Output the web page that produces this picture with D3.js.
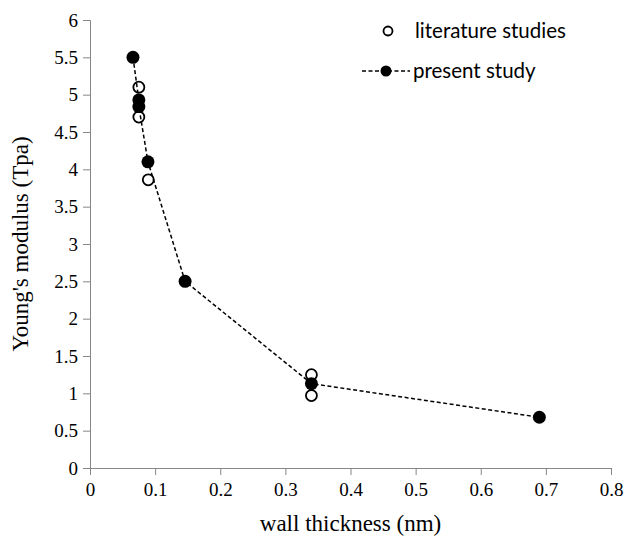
<!DOCTYPE html>
<html>
<head>
<meta charset="utf-8">
<script src="https://cdn.jsdelivr.net/npm/d3@7"></script>
<style>
  body { margin: 0; background: #fff; }
  svg { display: block; }
  .serif { font-family: "Liberation Serif", "Times New Roman", Times, "DejaVu Serif", serif; }
</style>
</head>
<body>
<svg id="chart"></svg>
<script>
// literature values (open circles)
const litX = [0.075, 0.075, 0.0895, 0.34, 0.34];
const litY = [5.1, 4.7, 3.86, 1.25, 0.97];
// present study (filled circles, dashed line)
const presX = [0.066, 0.075, 0.075, 0.089, 0.146, 0.34, 0.69];
const presY = [5.5, 4.93, 4.84, 4.10, 2.50, 1.13, 0.68];

const xTicks = [0, 0.1, 0.2, 0.3, 0.4, 0.5, 0.6, 0.7, 0.8];
const yTicks = [0, 0.5, 1, 1.5, 2, 2.5, 3, 3.5, 4, 4.5, 5, 5.5, 6];

const width = 625, height = 542;
const margin = {left: 90, right: 14, top: 20, bottom: 74};

const svg = d3.select("#chart")
  .attr("width", width)
  .attr("height", height);

const x = d3.scaleLinear().domain([0, 0.8]).range([margin.left, width - margin.right]);
const y = d3.scaleLinear().domain([0, 6]).range([height - margin.bottom, margin.top]);

const axisColor = "#868686";

// x axis
const gx = svg.append("g")
  .attr("transform", `translate(0,${y(0)})`)
  .call(d3.axisBottom(x).tickValues(xTicks).tickFormat(d3.format("")).tickSize(7).tickPadding(8));
// y axis
const gy = svg.append("g")
  .attr("transform", `translate(${x(0)},0)`)
  .call(d3.axisLeft(y).tickValues(yTicks).tickFormat(d3.format("")).tickSize(7).tickPadding(5));

[gx, gy].forEach(g => {
  g.attr("font-family", null).attr("font-size", 19);
  g.select(".domain").attr("stroke", axisColor).attr("stroke-width", 1);
  g.selectAll(".tick line").attr("stroke", axisColor);
  g.selectAll(".tick text").attr("fill", "#000").attr("class", "serif");
});

// axis titles
svg.append("text")
  .attr("class", "serif")
  .attr("x", (x(0) + x(0.8)) / 2)
  .attr("y", 531)
  .attr("text-anchor", "middle")
  .attr("font-size", 23)
  .text("wall thickness (nm)");

svg.append("text")
  .attr("class", "serif")
  .attr("transform", `translate(28,${(y(0) + y(6)) / 2}) rotate(-90)`)
  .attr("text-anchor", "middle")
  .attr("font-size", 23)
  .text("Young's modulus (Tpa)");

const lit = litX.map((d, i) => ({x: d, y: litY[i]}));
const pres = presX.map((d, i) => ({x: d, y: presY[i]}));

// literature points
svg.append("g")
  .selectAll("circle")
  .data(lit)
  .join("circle")
  .attr("cx", d => x(d.x))
  .attr("cy", d => y(d.y))
  .attr("r", 5.5)
  .attr("fill", "#fff")
  .attr("stroke", "#000")
  .attr("stroke-width", 1.8);

// present study line + points
const line = d3.line().x(d => x(d.x)).y(d => y(d.y));
svg.append("path")
  .datum(pres)
  .attr("d", line)
  .attr("fill", "none")
  .attr("stroke", "#000")
  .attr("stroke-width", 1.5)
  .attr("stroke-dasharray", "4,2.5");

svg.append("g")
  .selectAll("circle")
  .data(pres)
  .join("circle")
  .attr("cx", d => x(d.x))
  .attr("cy", d => y(d.y))
  .attr("r", 6.5)
  .attr("fill", "#000");

// legend
const legend = svg.append("g").attr("font-family", "Lato, Open Sans, sans-serif").attr("font-size", 20.5);
legend.append("circle")
  .attr("cx", 388).attr("cy", 31).attr("r", 4.5)
  .attr("fill", "#fff").attr("stroke", "#000").attr("stroke-width", 1.8);
legend.append("text").attr("x", 415).attr("y", 38).text("literature studies");
legend.append("line")
  .attr("x1", 362).attr("x2", 410).attr("y1", 71).attr("y2", 71)
  .attr("stroke", "#000").attr("stroke-width", 1.5).attr("stroke-dasharray", "4,2.5");
legend.append("circle")
  .attr("cx", 386).attr("cy", 71).attr("r", 5.5).attr("fill", "#000");
legend.append("text").attr("x", 413).attr("y", 78).text("present study");
</script>
</body>
</html>
